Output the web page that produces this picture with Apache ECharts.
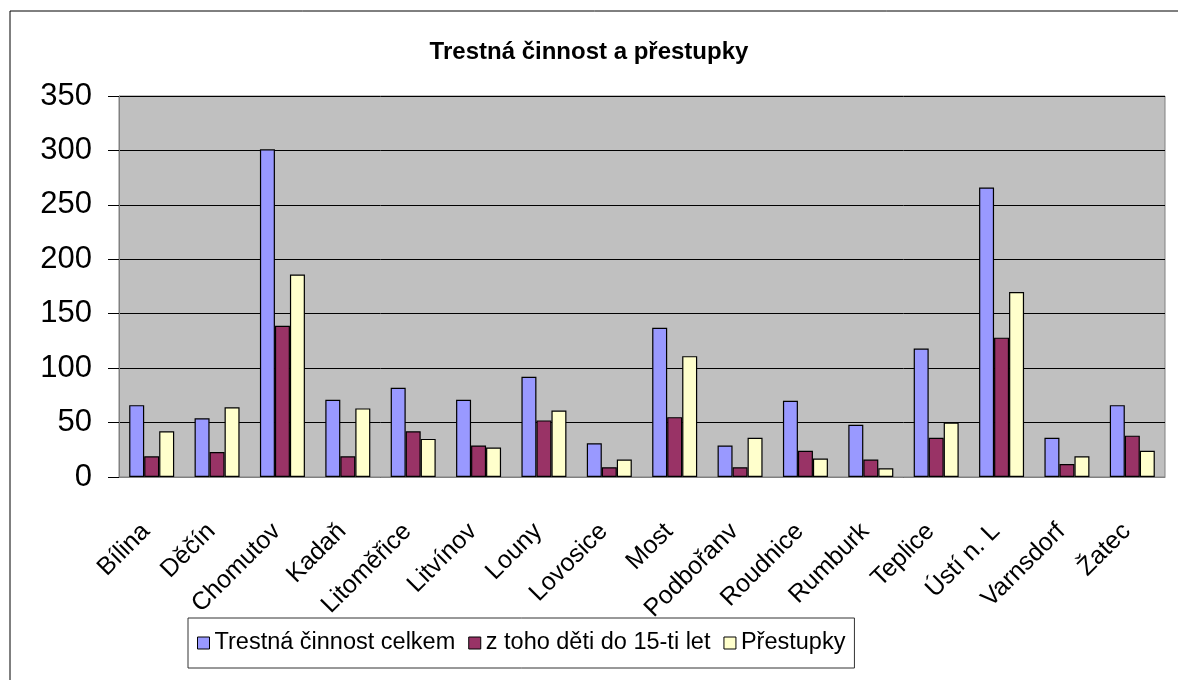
<!DOCTYPE html>
<html style="height: 100%">
<head>
<meta charset="utf-8">
<script src="https://cdn.jsdelivr.net/npm/echarts@6/dist/echarts.min.js"></script>
</head>
<body style="height: 100%; margin: 0; background: #fff">
<div id="container" style="width: 1178px; height: 680px"></div>
<script type="text/javascript">
var cities = ['Bílina', 'Děčín', 'Chomutov', 'Kadaň', 'Litoměřice', 'Litvínov', 'Louny', 'Lovosice',
	'Most', 'Podbořanv', 'Roudnice', 'Rumburk', 'Teplice', 'Ústí n. L', 'Varnsdorf', 'Žatec'];
var seriesNames = ['Trestná činnost celkem', 'z toho děti do 15-ti let', 'Přestupky'];
var total = [66, 54, 301, 71, 82, 71, 92, 31, 137, 29, 70, 48, 118, 266, 36, 66];
var children = [19, 23, 139, 19, 42, 29, 52, 9, 55, 9, 24, 16, 36, 128, 12, 38];
var offences = [42, 64, 186, 63, 35, 27, 61, 16, 111, 36, 17, 8, 50, 170, 19, 24];
var colors = ['#9999FF', '#993366', '#FFFFCC'];

var font = '"Liberation Sans", Arial, sans-serif';
var myChart = echarts.init(document.getElementById('container'));

function barSeries(i, data) {
	return {
		name: seriesNames[i],
		type: 'bar',
		data: data,
		barWidth: 15,
		barGap: '0%',
		itemStyle: { color: colors[i], borderColor: '#000', borderWidth: 1.2 }
	};
}

var option = {
	animation: false,
	graphic: [{
		type: 'rect',
		shape: { x: 10, y: 11, width: 1200, height: 700 },
		style: { fill: null, stroke: '#000', lineWidth: 1 },
		z: -10
	}],
	title: {
		text: 'Trestná činnost a přestupky',
		left: 'center',
		top: 35,
		textStyle: { fontFamily: font, fontWeight: 'bold', fontSize: 24, color: '#000' }
	},
	grid: {
		left: 119, top: 96, right: 13, bottom: 203,
		show: true,
		backgroundColor: '#C0C0C0',
		borderColor: '#808080',
		borderWidth: 1
	},
	legend: {
		left: 188,
		top: 618,
		padding: [7, 9, 7, 9],
		itemGap: 13,
		itemWidth: 12,
		itemHeight: 12,
		icon: 'rect',
		borderColor: '#333',
		borderWidth: 1,
		backgroundColor: '#fff',
		itemStyle: { borderColor: '#000', borderWidth: 1 },
		textStyle: { fontFamily: font, fontSize: 23.5, lineHeight: 36, color: '#000' },
		data: seriesNames
	},
	xAxis: {
		type: 'category',
		data: cities,
		axisLine: { lineStyle: { color: '#808080', width: 1 } },
		axisTick: { length: 10, lineStyle: { color: '#000' } },
		axisLabel: {
			interval: 0,
			rotate: 45,
			margin: 45,
			padding: [0, 8, 0, 0],
			fontFamily: font,
			fontSize: 25,
			color: '#000'
		}
	},
	yAxis: {
		type: 'value',
		min: 0,
		max: 350,
		interval: 50,
		axisLine: { show: true, lineStyle: { color: '#808080', width: 1 } },
		axisTick: { show: true, length: 11, lineStyle: { color: '#000' } },
		axisLabel: {
			margin: 27,
			fontFamily: font,
			fontSize: 31,
			color: '#000'
		},
		splitLine: { lineStyle: { color: '#000', width: 1 } }
	},
	series: [
		barSeries(0, total),
		barSeries(1, children),
		barSeries(2, offences)
	]
};

myChart.setOption(option);
</script>
</body>
</html>
